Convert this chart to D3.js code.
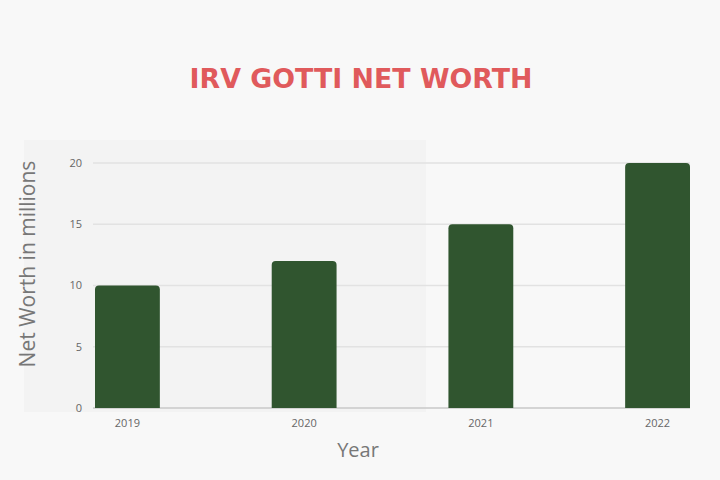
<!DOCTYPE html>
<html>
<head>
<meta charset="utf-8">
<script src="https://cdn.jsdelivr.net/npm/d3@7"></script>
<style>
  body { margin: 0; background: #f8f8f8; }
  svg { display: block; }
</style>
</head>
<body>
<svg id="chart"></svg>
<script>
var years = ["2019", "2020", "2021", "2022"];
var netWorth = [10, 12, 15, 20];
var yTicks = [0, 5, 10, 15, 20];

var width = 720, height = 480;
var svg = d3.select("#chart").attr("width", width).attr("height", height);

svg.append("rect").attr("width", width).attr("height", height).attr("fill", "#f8f8f8");
// faint panel behind the left half
svg.append("rect").attr("x", 24).attr("y", 140).attr("width", 402).attr("height", 272).attr("fill", "#f3f3f3");

var x = d3.scaleBand().domain(years).range([95, 690]).paddingInner(0.633).paddingOuter(0);
var y = d3.scaleLinear().domain([0, 20]).range([408, 163]);

// grid
svg.append("g").selectAll("line")
  .data(yTicks)
  .enter().append("line")
  .attr("x1", 93).attr("x2", 690)
  .attr("y1", function(d) { return y(d); })
  .attr("y2", function(d) { return y(d); })
  .attr("stroke", function(d) { return d == 0 ? "#c8c8c8" : "#e2e2e2"; })
  .attr("stroke-width", 1.5);

// y tick labels
svg.append("g").selectAll("text")
  .data(yTicks)
  .enter().append("text")
  .attr("x", 82)
  .attr("y", function(d) { return y(d); })
  .attr("dy", ".35em")
  .attr("text-anchor", "end")
  .style("font-family", "Open Sans")
  .style("font-size", "11px")
  .style("fill", "#666")
  .text(function(d) { return d; });

// bars with rounded tops
var r = 4;
svg.append("g").selectAll("path")
  .data(netWorth)
  .enter().append("path")
  .attr("fill", "#30552f")
  .attr("d", function(d, i) {
    var x0 = x(years[i]), w = x.bandwidth(), y0 = y(d), y1 = y(0);
    return "M" + x0 + "," + y1 + "V" + (y0 + r) + "Q" + x0 + "," + y0 + " " + (x0 + r) + "," + y0 +
      "H" + (x0 + w - r) + "Q" + (x0 + w) + "," + y0 + " " + (x0 + w) + "," + (y0 + r) + "V" + y1 + "Z";
  });

// x tick labels
svg.append("g").selectAll("text")
  .data(years)
  .enter().append("text")
  .attr("x", function(d) { return x(d) + x.bandwidth() / 2; })
  .attr("y", 427)
  .attr("text-anchor", "middle")
  .style("font-family", "Open Sans")
  .style("font-size", "11px")
  .style("fill", "#666")
  .text(function(d) { return d; });

// axis titles
svg.append("text")
  .attr("x", 358).attr("y", 457)
  .attr("text-anchor", "middle")
  .style("font-family", "Open Sans")
  .style("font-size", "20px")
  .style("fill", "#777")
  .text("Year");

svg.append("text")
  .attr("transform", "translate(35,264) rotate(-90)")
  .attr("text-anchor", "middle")
  .style("font-family", "Open Sans")
  .style("font-size", "21px")
  .style("fill", "#777")
  .text("Net Worth in millions");

// title
svg.append("text")
  .attr("x", 361).attr("y", 88)
  .attr("text-anchor", "middle")
  .attr("textLength", 343)
  .attr("lengthAdjust", "spacingAndGlyphs")
  .style("font-family", "DejaVu Sans")
  .style("font-weight", "bold")
  .style("font-size", "27px")
  .style("fill", "#e05a5c")
  .text("IRV GOTTI NET WORTH");
</script>
</body>
</html>
